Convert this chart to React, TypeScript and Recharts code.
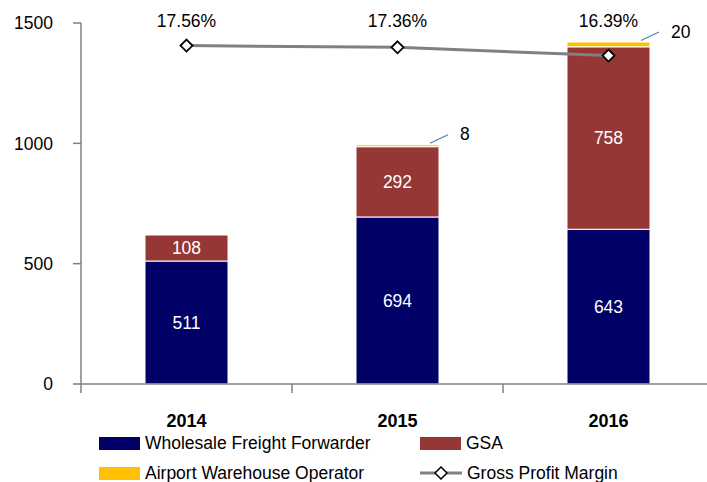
import { ComposedChart, Bar, Line, XAxis, YAxis, LabelList } from 'recharts';

const years = ['2014', '2015', '2016'];
const wholesale = [511, 694, 643];
const gsa = [108, 292, 758];
const airport = [0, 8, 20];
const grossMargin = [17.56, 17.36, 16.39];
const valueTicks = [0, 500, 1000, 1500];

const NAVY = '#000066';
const BROWN = '#953735';
const YELLOW = '#FFC000';
const GREY = '#808080';
const FONT = '"Liberation Sans", Arial, sans-serif';

const data = years.map((year, i) => ({
    year,
    wholesale: wholesale[i],
    gsa: gsa[i],
    airport: airport[i],
    margin: grossMargin[i],
}));

// half of a category band (plot width / categories)
const HALF_BAND = 105.5;

const YearTick = (props: any) => {
    const { x, y, payload } = props;
    return (
        <g>
            <line x1={x - HALF_BAND} y1={y} x2={x - HALF_BAND} y2={y + 9} stroke={GREY} strokeWidth={1.5} />
            <text x={x} y={y + 37} textAnchor="middle" dominantBaseline="central" fontWeight="bold" fontSize={18} fill="#000" fontFamily={FONT}>
                {payload.value}
            </text>
        </g>
    );
};

const Diamond = (props: any) => {
    const { cx, cy } = props;
    if (cx == null || cy == null) return null;
    const s = 6;
    return (
        <path
            d={`M${cx},${cy - s} L${cx + s},${cy} L${cx},${cy + s} L${cx - s},${cy} Z`}
            fill="#fff"
            stroke="#000"
            strokeWidth={1.8}
        />
    );
};

// margin labels sit in a row above the plot
const MarginLabel = (props: any) => {
    const { x, value } = props;
    return (
        <text x={x} y={21} textAnchor="middle" dominantBaseline="central" fontSize={17.5} fill="#000" fontFamily={FONT}>
            {`${Number(value).toFixed(2)}%`}
        </text>
    );
};

// small callout with leader line for the thin airport segment
const Callout = (props: any) => {
    const { x, y, width, value } = props;
    if (!value) return null;
    const right = x + width;
    return (
        <g>
            <line x1={right - 9} y1={y - 1.5} x2={right + 9} y2={y - 10} stroke="#4A7EBB" strokeWidth={1.2} />
            <text x={right + 21} y={y - 10.5} textAnchor="start" dominantBaseline="central" fontSize={17.5} fill="#000" fontFamily={FONT}>
                {value}
            </text>
        </g>
    );
};

const legendItems = [
    { label: 'Wholesale Freight Forwarder', color: NAVY, left: 99, top: 436, kind: 'box' },
    { label: 'GSA', color: BROWN, left: 420, top: 436, kind: 'box' },
    { label: 'Airport Warehouse Operator', color: YELLOW, left: 99, top: 466, kind: 'box' },
    { label: 'Gross Profit Margin', color: GREY, left: 420, top: 466, kind: 'line' },
];

export default function App() {
    return (
        <div style={{ position: 'absolute', left: 0, top: 0, width: 707, height: 482, overflow: 'hidden', background: '#fff', fontFamily: FONT }}>
            <ComposedChart width={720} height={482} data={data} margin={{ top: 23, right: 6, bottom: 48, left: 0 }}>
                <XAxis
                    dataKey="year"
                    height={50}
                    axisLine={{ stroke: GREY, strokeWidth: 1.5 }}
                    tickLine={false}
                    tickSize={0}
                    tickMargin={0}
                    tick={<YearTick />}
                />
                <YAxis
                    yAxisId="left"
                    width={81}
                    domain={[0, 1500]}
                    ticks={valueTicks}
                    axisLine={{ stroke: GREY, strokeWidth: 1.5 }}
                    tickLine={{ stroke: GREY, strokeWidth: 1.5 }}
                    tickSize={8}
                    tickMargin={20}
                    tick={{ fill: '#000', fontSize: 17.5, fontFamily: FONT }}
                />
                <YAxis yAxisId="pct" orientation="right" hide domain={[-22, 20.2]} />
                <Bar dataKey="wholesale" stackId="a" yAxisId="left" barSize={83} fill={NAVY} stroke="#fff" strokeWidth={1} isAnimationActive={false}>
                    <LabelList dataKey="wholesale" position="center" fill="#fff" fontSize={17.5} fontFamily={FONT} />
                </Bar>
                <Bar dataKey="gsa" stackId="a" yAxisId="left" barSize={83} fill={BROWN} stroke="#fff" strokeWidth={1} isAnimationActive={false}>
                    <LabelList dataKey="gsa" position="center" fill="#fff" fontSize={17.5} fontFamily={FONT} />
                </Bar>
                <Bar dataKey="airport" stackId="a" yAxisId="left" barSize={83} fill={YELLOW} stroke="#fff" strokeWidth={1} isAnimationActive={false}>
                    <LabelList dataKey="airport" content={<Callout />} />
                </Bar>
                <Line
                    dataKey="margin"
                    yAxisId="pct"
                    stroke={GREY}
                    strokeWidth={3}
                    dot={<Diamond />}
                    activeDot={false}
                    isAnimationActive={false}
                >
                    <LabelList dataKey="margin" content={<MarginLabel />} />
                </Line>
            </ComposedChart>
            {legendItems.map(item => (
                <div key={item.label} style={{ position: 'absolute', left: item.left, top: item.top, display: 'flex', alignItems: 'center', height: 14 }}>
                    {item.kind === 'box' ? (
                        <div style={{ width: 41, height: 13, background: item.color }} />
                    ) : (
                        <svg width={42} height={14}>
                            <line x1={0} y1={7} x2={42} y2={7} stroke={item.color} strokeWidth={3} />
                            <path d="M21,1 L27,7 L21,13 L15,7 Z" fill="#fff" stroke="#000" strokeWidth={1.5} />
                        </svg>
                    )}
                    <span style={{ marginLeft: 5, fontSize: 17.5, color: '#000', whiteSpace: 'nowrap' }}>{item.label}</span>
                </div>
            ))}
        </div>
    );
}
